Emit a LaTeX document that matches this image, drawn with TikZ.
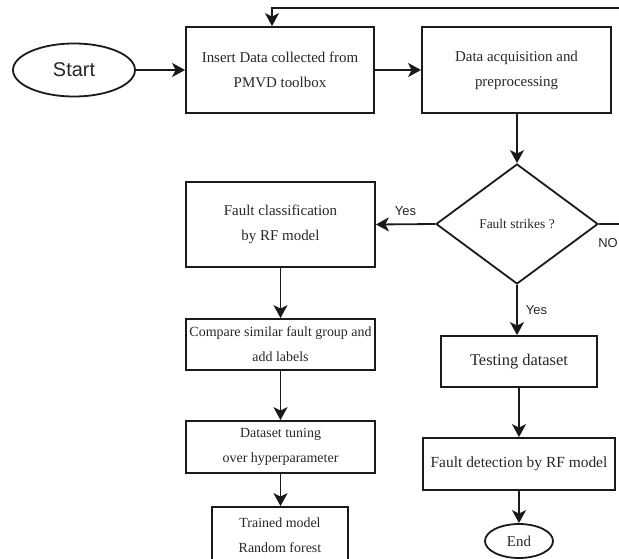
\documentclass[tikz,border=0pt]{standalone}
\usepackage{fontspec}
\setmainfont{Liberation Serif}
\newfontfamily\arialf{Liberation Sans}
\usetikzlibrary{arrows.meta,shapes.geometric,calc}
\definecolor{ink}{HTML}{1A1A1A}
\definecolor{txt}{HTML}{262626}
\tikzset{
  box/.style={draw=ink,line width=1.8bp,rectangle,inner sep=0pt,align=center,text=txt,
    font=\fontsize{15}{25}\selectfont},
  smallbox/.style={box,font=\fontsize{14}{25}\selectfont},
  oval/.style={draw=ink,line width=1.8bp,ellipse,inner sep=0pt,text=txt},
  decision/.style={draw=ink,line width=1.8bp,diamond,inner sep=0pt,text=txt,
    font=\fontsize{13.5}{16}\selectfont},
  arr/.style={draw=ink,line width=1.8bp,-{Stealth[length=13bp,width=14bp,inset=3.5bp]}},
  conn/.style={draw=ink,line width=1.8bp},
  lbl/.style={text=txt,font=\arialf\fontsize{13}{15}\selectfont,inner sep=0pt}
}
\begin{document}
\begin{tikzpicture}[x=1bp,y=-1bp]
\useasboundingbox (0,0) rectangle (619,559);
\clip (0,0) rectangle (619,559);
% nodes
\node[oval,minimum width=122bp,minimum height=53bp,font=\arialf\fontsize{20}{24}\selectfont] (start) at (74,70) {Start};
\node[box,minimum width=188bp,minimum height=86bp] (insert) at (280,70) {Insert Data collected from\\PMVD toolbox};
\node[box,minimum width=189bp,minimum height=86bp] (acq) at (516.5,70) {Data acquisition and\\preprocessing};
\node[decision,minimum width=162bp,minimum height=120bp] (dec) at (517,224) {Fault strikes ?};
\node[box,minimum width=189bp,minimum height=85bp] (fc) at (280.5,224.5) {Fault classification\\by RF model};
\node[smallbox,minimum width=189bp,minimum height=51bp] (cmp) at (280.5,344.5) {Compare similar fault group and\\add labels};
\node[smallbox,minimum width=189bp,minimum height=52bp] (tune) at (280.5,447) {Dataset tuning\\over hyperparameter};
\node[smallbox,minimum width=136bp,minimum height=56bp] (trained) at (280,535) {Trained model\\Random forest};
\node[box,minimum width=156bp,minimum height=51bp,font=\fontsize{16.5}{20}\selectfont] (test) at (519,361.5) {Testing dataset};
\node[box,minimum width=192bp,minimum height=52bp,font=\fontsize{15.5}{20}\selectfont] (det) at (519,464) {Fault detection by RF model};
\node[oval,minimum width=68bp,minimum height=34bp,font=\fontsize{15}{18}\selectfont] (end) at (519,541) {End};
% free ends
\coordinate (noR) at (640,224);
\coordinate (loopR) at (640,8);
\coordinate (loopL) at (272,8);
% connectors
\draw[arr] (start.east) -- (insert.west);
\draw[arr] (insert.east) -- (acq.west);
\draw[arr] (acq.south -| dec.north) -- (dec.north);
\draw[arr] (dec.west) -- (fc.east) node[lbl,midway,above=8bp] {Yes};
\draw[arr] (fc.south) -- (cmp.north);
\draw[arr] (cmp.south) -- (tune.north);
\draw[arr] (tune.south) -- (trained.north -| tune.south);
\draw[arr] (dec.south) -- (test.north -| dec.south) node[lbl,pos=0.5,right=8bp] {Yes};
\draw[arr] (test.south -| end.north) -- (det.north -| end.north);
\draw[arr] (det.south -| end.north) -- (end.north);
\draw[conn] (dec.east) -- (noR);
\node[lbl,anchor=east] (nolbl) at (618,243) {NO};
\draw[arr] (loopR) -- (loopL) -- (loopL |- insert.north);
\end{tikzpicture}
\end{document}
